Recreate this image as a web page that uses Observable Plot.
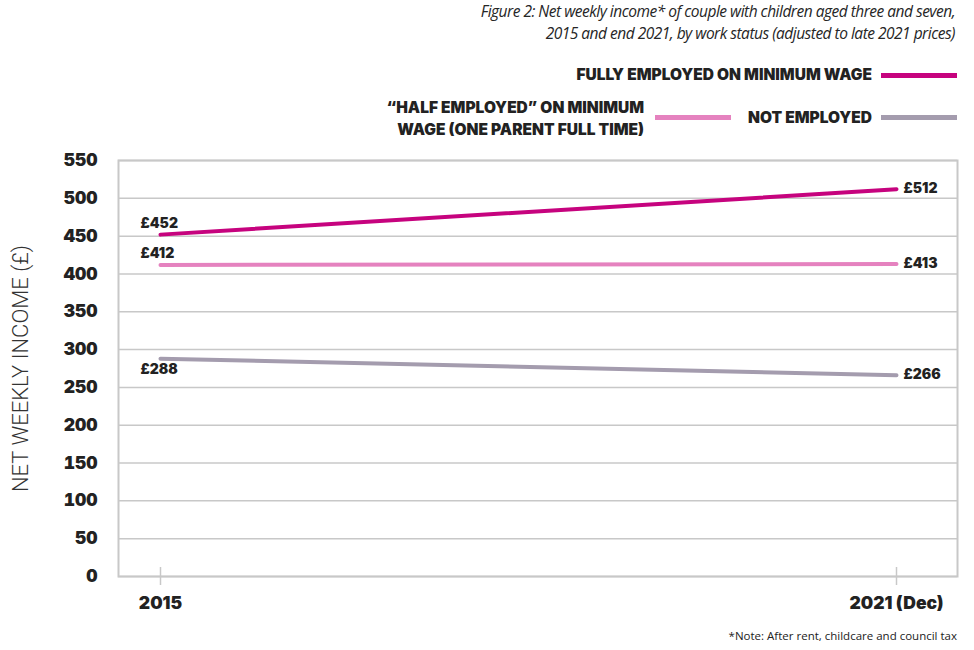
<!DOCTYPE html>
<html>
<head>
<meta charset="utf-8">
<script src="https://cdn.jsdelivr.net/npm/d3@7"></script>
<script src="https://cdn.jsdelivr.net/npm/@observablehq/plot@0.6"></script>
<style>
  html, body { margin: 0; padding: 0; background: #fff; }
  #wrap { position: relative; width: 974px; height: 650px; overflow: hidden; }
  #header { position: relative; width: 974px; height: 145px; }
  .title { position: absolute; right: 19px; top: 0px; text-align: right; white-space: nowrap;
    font: italic 500 15.5px/22px "Open Sans", sans-serif; color: #262626; letter-spacing: -0.5px; }
  .leg { position: absolute; font: 900 15.5px/22px Inter, sans-serif; color: #222;
    text-align: right; white-space: nowrap; }
  .sw { position: absolute; height: 5px; }
  #chart svg { display: block; }
  g[aria-label="y-axis label"] text { font: 300 22px Roboto, sans-serif; fill: #333; }
  .caption { position: absolute; right: 17px; top: 628px; font: 500 11.5px "Open Sans", sans-serif; color: #222; white-space: nowrap; }
</style>
</head>
<body>
<div id="wrap">
  <div id="header">
    <div class="title">Figure 2: Net weekly income* of couple with children aged three and seven,<br>2015 and end 2021, by work status (adjusted to late 2021 prices)</div>
  </div>
  <div id="chart"></div>
  <div class="caption">*Note: After rent, childcare and council tax</div>
</div>
<script>
const years = ["2015", "2021 (Dec)"];
const seriesNames = ["FULLY EMPLOYED ON MINIMUM WAGE", "“HALF EMPLOYED” ON MINIMUM WAGE (ONE PARENT FULL TIME)", "NOT EMPLOYED"];
const fullyEmployed = [452, 512];
const halfEmployed = [412, 413];
const notEmployed = [288, 266];
const yTicks = [0, 50, 100, 150, 200, 250, 300, 350, 400, 450, 500, 550];
const colors = ["#c6037e", "#e582bf", "#a49cae"];

const seriesValues = [fullyEmployed, halfEmployed, notEmployed];
const data = seriesNames.flatMap((s, i) => years.map((yr, j) => ({series: s, si: i, year: yr, value: seriesValues[i][j], idx: j})));

// label offsets per series: [left point dy, right point dy]
const labelDy = [[-11, -1], [-11, -1], [11, -1]];
const fmt = v => "£" + v;

const labelMarks = data.map(d => Plot.text([d], {
  x: "year", y: "value", text: r => fmt(r.value),
  dy: labelDy[d.si][d.idx], dx: d.idx === 0 ? -20 : 7,
  fontSize: 14, fontWeight: 900, textAnchor: "start", fill: "#222"
}));

const plot = Plot.plot({
  width: 974,
  height: 475,
  marginTop: 15,
  marginBottom: 44,
  marginLeft: 118,
  marginRight: 17,
  x: {type: "point", domain: years, insetLeft: 42, insetRight: 61, padding: 0},
  y: {domain: [0, 550], ticks: yTicks},
  color: {domain: seriesNames, range: colors},
  style: {fontFamily: "Inter, sans-serif", color: "#222"},
  marks: [
    Plot.gridY(yTicks, {stroke: "#c8c8c8", strokeOpacity: 1, strokeWidth: 1.5}),
    Plot.frame({stroke: "#c8c8c8", strokeWidth: 2}),
    Plot.axisY(yTicks, {tickSize: 0, tickPadding: 21, fontSize: 17.5, fontWeight: 900,
      label: "NET WEEKLY INCOME (£)", labelAnchor: "center", labelArrow: "none", labelOffset: 106}),
    Plot.axisX({tickSize: 18, dy: -9, tickFormat: () => "", stroke: "#c8c8c8", strokeWidth: 1.5, label: null}),
    Plot.axisX({tickSize: 0, tickPadding: 20, fontSize: 17.5, fontWeight: 900, label: null}),
    Plot.line(data, {x: "year", y: "value", z: "series", stroke: "series", strokeWidth: 4}),
    ...labelMarks
  ]
});
document.getElementById("chart").appendChild(plot);

// Legend (HTML)
const header = document.getElementById("header");
function addLeg(text, right, top, color, swLeft, swTop) {
  const t = document.createElement("div");
  t.className = "leg"; t.innerHTML = text;
  t.style.right = right + "px"; t.style.top = top + "px";
  header.appendChild(t);
  const s = document.createElement("div");
  s.className = "sw"; s.style.left = swLeft + "px"; s.style.top = swTop + "px";
  s.style.width = "76px"; s.style.background = color;
  header.appendChild(s);
}
addLeg(seriesNames[0], 974 - 872, 64, colors[0], 881, 73);
addLeg("“HALF EMPLOYED” ON MINIMUM<br>WAGE (ONE PARENT FULL TIME)", 974 - 644, 97, colors[1], 655, 115);
addLeg(seriesNames[2], 974 - 872, 107, colors[2], 881, 115);
</script>
</body>
</html>
